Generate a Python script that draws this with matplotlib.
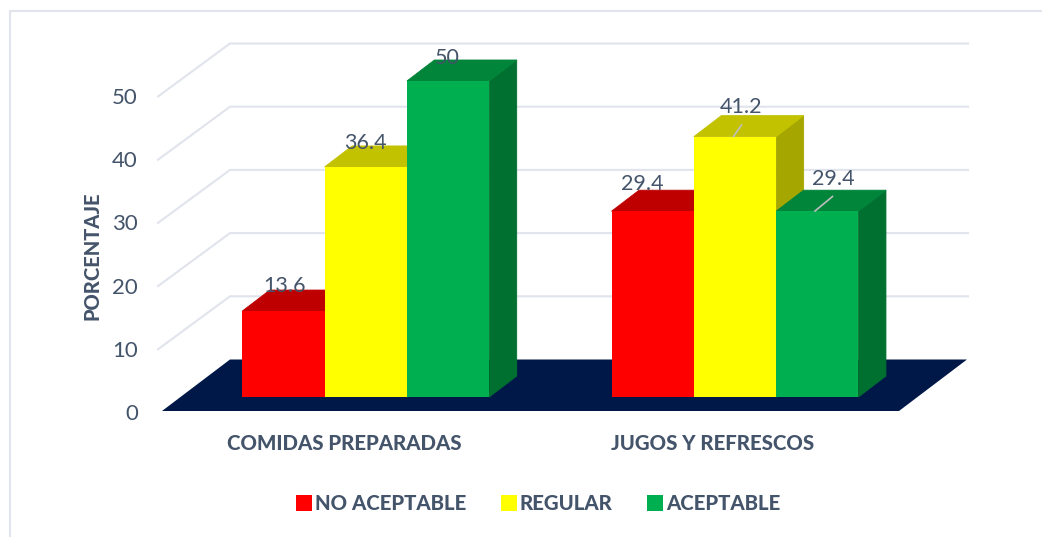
import matplotlib
matplotlib.use('Agg')
import matplotlib.pyplot as plt
from matplotlib.patches import Patch
import numpy as np

# Data
categories = ['COMIDAS PREPARADAS', 'JUGOS Y REFRESCOS']
no_aceptable = [13.6, 29.4]
regular = [36.4, 41.2]
aceptable = [50, 29.4]
series_names = ['NO ACEPTABLE', 'REGULAR', 'ACEPTABLE']
y_ticks = [0, 10, 20, 30, 40, 50]

W, H = 1042, 537
TEXT = '#44546A'
GRID = '#E1E4EC'
BOLD = 900
plt.rcParams['font.family'] = ['Lato', 'DejaVu Sans']

# front plane of the bars: group spacing and units per pixel
GROUP_PX = 369.25
X0_PX = 365.75
UNIT_PX = 6.32
BASE_PX = 397


def px_x(p):
    return (p - X0_PX) / GROUP_PX


def px_y(p):
    return (BASE_PX - p) / UNIT_PX


fig = plt.figure(figsize=(W / 100, H / 100), dpi=100)
ax = fig.add_axes([0, 0, 1, 1])
ax.set_xlim(px_x(0), px_x(W))
ax.set_ylim(px_y(H), px_y(0))
ax.axis('off')

# chart border (only top and left show)
ax.plot([px_x(10), px_x(10), px_x(W)], [px_y(H), px_y(11), px_y(11)], color=GRID, lw=1.5, zorder=1)

# walls
for v in y_ticks[1:]:
    back = px_y(359.5) + v
    ax.plot([px_x(158), px_x(230), px_x(968)], [back - 53 / UNIT_PX, back, back],
            color=GRID, lw=1.5, zorder=1)

# floor
ax.fill([px_x(162), px_x(899), px_x(967), px_x(230)],
        [px_y(411), px_y(411), px_y(359.5), px_y(359.5)], color='#001848', lw=0, zorder=2)

# bars
x = np.arange(len(categories))
width = 82.3 / GROUP_PX
dx = 27.5 / GROUP_PX
dy = 21 / UNIT_PX
series = [no_aceptable, regular, aceptable]
fronts = ['#FF0000', '#FFFF00', '#00B050']
tops = ['#BF0000', '#C2C200', '#00853A']
sides = ['#8F0000', '#A6A600', '#007030']

z = 3
for i, vals in enumerate(series):
    for xc, v in zip(x + (i - 1) * width, vals):
        left, right = xc - width / 2, xc + width / 2
        ax.fill([right, right + dx, right + dx, right], [0, dy, v + dy, v],
                facecolor=sides[i], edgecolor=sides[i], lw=0.6, zorder=z)
        ax.fill([left, right, right + dx, left + dx], [v, v, v + dy, v + dy],
                facecolor=tops[i], edgecolor=tops[i], lw=0.6, zorder=z)
        ax.bar(xc, v, width, color=fronts[i], lw=0, zorder=z + 0.5)
        z += 1

# data labels, offsets in px from the top centre of each bar front
label_offsets = [[(1, 25), (-10, 27)], [(0, 24), (6, 30)], [(-1, 23), (16, 32)]]
for i, vals in enumerate(series):
    for j, v in enumerate(vals):
        off = label_offsets[i][j]
        ax.annotate(str(v), (x[j] + (i - 1) * width, v), xytext=(off[0] * 0.72, off[1] * 0.72),
                    textcoords='offset points', ha='center', va='center',
                    fontsize=15.5, color=TEXT, zorder=50)

# leader lines
ax.plot([px_x(733.5), px_x(741.5)], [px_y(136.5), px_y(125)], color='#BFBFBF', lw=1.2, zorder=49)
ax.plot([px_x(815), px_x(832.5)], [px_y(211), px_y(196.5)], color='#BFBFBF', lw=1.2, zorder=49)

# axis text
for v in y_ticks:
    ax.text(px_x(138), px_y(414) + v, str(v), ha='right', va='center', fontsize=16, color=TEXT)
ax.text(px_x(92), px_y(256), 'PORCENTAJE', rotation=90, ha='center', va='center',
        fontsize=14.5, fontweight=BOLD, color=TEXT)
ax.text(px_x(344.5), px_y(444), categories[0], ha='center', va='center', fontsize=14.7, fontweight=BOLD, color=TEXT)
ax.text(px_x(712.5), px_y(444), categories[1], ha='center', va='center', fontsize=14.7, fontweight=BOLD, color=TEXT)

# legend
handles = [Patch(color=c, lw=0) for c in fronts]
ax.legend(handles, series_names, ncol=3, loc='center', bbox_to_anchor=(538 / W, 1 - 503.5 / H), frameon=False,
          prop={'size': 14.7, 'weight': BOLD}, labelcolor=TEXT, handlelength=0.8, handleheight=0.8,
          handletextpad=0.12, columnspacing=1.7, borderpad=0)

fig.savefig('out.png', dpi=100)
